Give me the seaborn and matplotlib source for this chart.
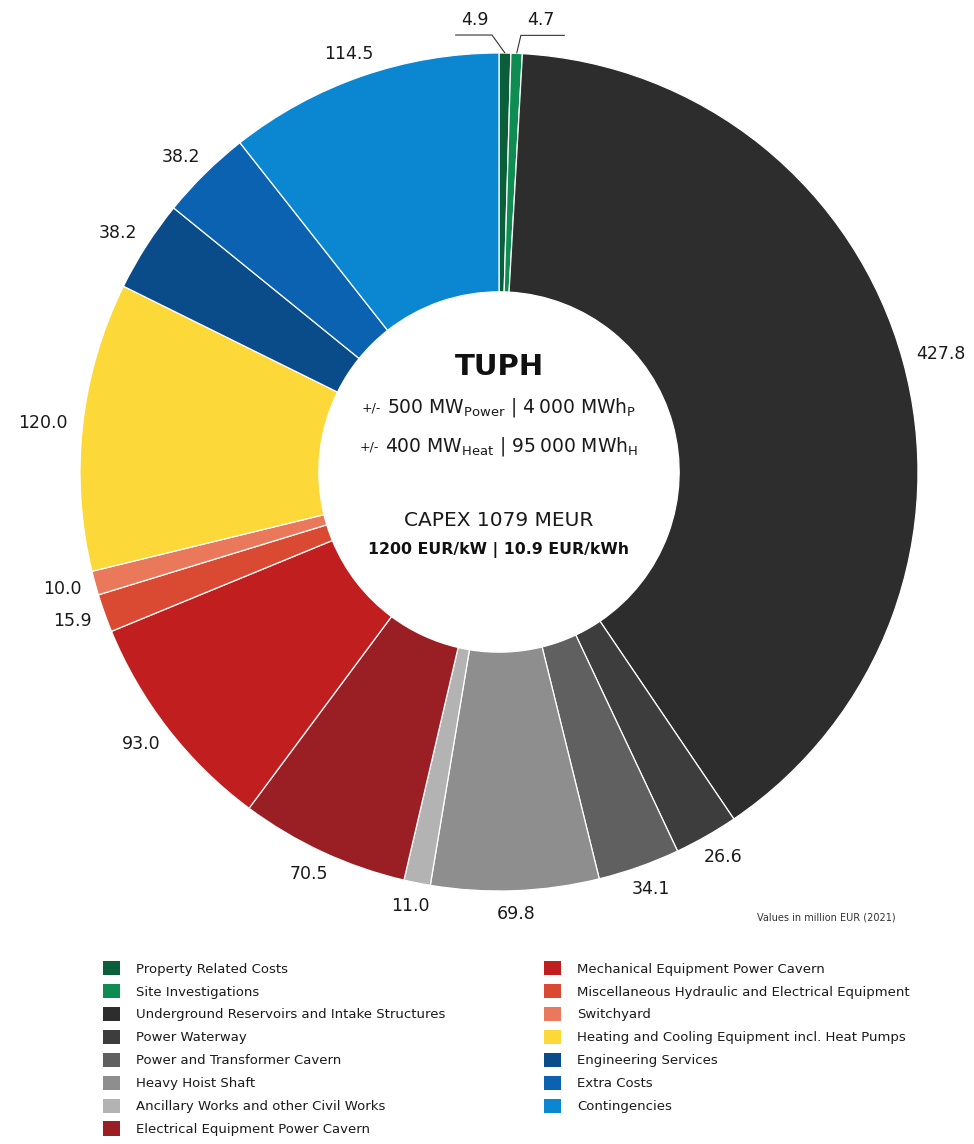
import numpy as np
import matplotlib
matplotlib.use("Agg")
import matplotlib.pyplot as plt
import seaborn as sns
from matplotlib.patches import Patch
from matplotlib.offsetbox import TextArea, HPacker, AnnotationBbox

# ---------------- data ----------------
categories = [
    "Property Related Costs",
    "Site Investigations",
    "Underground Reservoirs and Intake Structures",
    "Power Waterway",
    "Power and Transformer Cavern",
    "Heavy Hoist Shaft",
    "Ancillary Works and other Civil Works",
    "Electrical Equipment Power Cavern",
    "Mechanical Equipment Power Cavern",
    "Miscellaneous Hydraulic and Electrical Equipment",
    "Switchyard",
    "Heating and Cooling Equipment incl. Heat Pumps",
    "Engineering Services",
    "Extra Costs",
    "Contingencies",
]
values = [4.9, 4.7, 427.8, 26.6, 34.1, 69.8, 11.0, 70.5, 93.0, 15.9, 10.0, 120.0, 38.2, 38.2, 114.5]
value_labels = ["4.9", "4.7", "427.8", "26.6", "34.1", "69.8", "11.0", "70.5",
                "93.0", "15.9", "10.0", "120.0", "38.2", "38.2", "114.5"]
colors = ["#0b5e3a", "#0e8c52", "#2d2d2d", "#3d3d3d", "#606060", "#8e8e8e",
          "#b3b3b3", "#9a1f24", "#c01e1f", "#da4a33", "#e9795a", "#fcd839",
          "#0a4c8a", "#0a62b0", "#0a87d0"]

title_text = "TUPH"
capex_text = "CAPEX 1079 MEUR"
specific_text = "1200 EUR/kW | 10.9 EUR/kWh"
note_text = "Values in million EUR (2021)"

# ---------------- style ----------------
sns.set_theme(style="white")
plt.rcParams["font.family"] = ["DejaVu Sans"]
plt.rcParams["mathtext.fontset"] = "dejavusans"
txt_color = "#1a1a1a"

fig = plt.figure(figsize=(9.74, 11.44), dpi=100)
W, H = 974, 1144
R_PX = 419.0
CX, CY = 499.0, 472.0
L = 1.15
side = 2 * L * R_PX
ax = fig.add_axes([(CX - side / 2) / W, (H - CY - side / 2) / H, side / W, side / H])

wedges, _ = ax.pie(values, colors=colors, startangle=90, counterclock=False,
                   radius=1.0, wedgeprops=dict(width=0.57, edgecolor="white", linewidth=0.9))
ax.set_xlim(-L, L)
ax.set_ylim(-L, L)
ax.set_aspect("equal")
ax.axis("off")

# ---------------- value labels ----------------
d = 1.035
label_artists = []
for i, w in enumerate(wedges):
    if i < 2:
        continue
    a = np.deg2rad((w.theta1 + w.theta2) / 2)
    t = ax.text(d * np.cos(a), d * np.sin(a), value_labels[i], ha="center", va="center",
                fontsize=12.5, color=txt_color, clip_on=False)
    label_artists.append((t, a))

fig.canvas.draw()
renderer = fig.canvas.get_renderer()
for t, a in label_artists:
    bb = t.get_window_extent(renderer)
    x, y = t.get_position()
    t.set_position((x + bb.width / 2 * np.cos(a) / R_PX,
                    y + bb.height / 2 * np.sin(a) / R_PX))

# leader lines for the two tiny slices at the top
leader = {0: (-0.031, 0.043, -0.088, -0.041), 1: (0.010, 0.043, 0.105, 0.048)}
for i, (ex, ey, hx, lx) in leader.items():
    w = wedges[i]
    a = np.deg2rad((w.theta1 + w.theta2) / 2)
    px, py = np.cos(a), np.sin(a)
    e = (px + ex, py + ey)
    h = (e[0] + hx, e[1])
    ax.plot([px, e[0], h[0]], [py, e[1], h[1]], color="#333333", lw=0.8,
            clip_on=False, solid_capstyle="butt")
    ax.text(e[0] + lx, e[1] + 0.036, value_labels[i], ha="center", va="center",
            fontsize=12.5, color=txt_color, clip_on=False)

# ---------------- centre text ----------------
ax.text(0, 0.251, title_text, ha="center", va="center", fontsize=21,
        fontweight="bold", color="#111111")


def spec_line(y, main):
    t1 = TextArea("+/-", textprops=dict(fontsize=9, color=txt_color))
    t2 = TextArea(main, textprops=dict(fontsize=13.5, color=txt_color))
    box = HPacker(children=[t1, t2], align="center", pad=0, sep=4)
    ab = AnnotationBbox(box, (0, y), xycoords="data", frameon=False,
                        box_alignment=(0.5, 0.5), pad=0)
    ax.add_artist(ab)


spec_line(0.153, "500 MW$_{\\mathregular{Power}}$ | 4\u2009000 MWh$_{\\mathregular{P}}$")
spec_line(0.060, "400 MW$_{\\mathregular{Heat}}$ | 95\u2009000 MWh$_{\\mathregular{H}}$")
ax.text(0, -0.115, capex_text, ha="center", va="center", fontsize=14.5, color=txt_color)
ax.text(0, -0.186, specific_text, ha="center", va="center", fontsize=11.3,
        fontweight="bold", color="#111111")

# note
fig.text(826 / W, 1 - 918 / H, note_text, ha="center", va="center", fontsize=7,
         color="#333333")

# ---------------- legends ----------------
handles = [Patch(facecolor=c, edgecolor="none") for c in colors]
common = dict(frameon=False, fontsize=9.5, handlelength=1.3, handleheight=1.3,
              handletextpad=1.2, labelspacing=0.63, borderpad=0, borderaxespad=0,
              loc="upper left", labelcolor=txt_color)
fig.legend(handles[:8], categories[:8], bbox_to_anchor=(103 / W, 1 - 961 / H), **common)
fig.legend(handles[8:], categories[8:], bbox_to_anchor=(544 / W, 1 - 961 / H), **common)

fig.savefig("out.png", dpi=100, facecolor="white")
